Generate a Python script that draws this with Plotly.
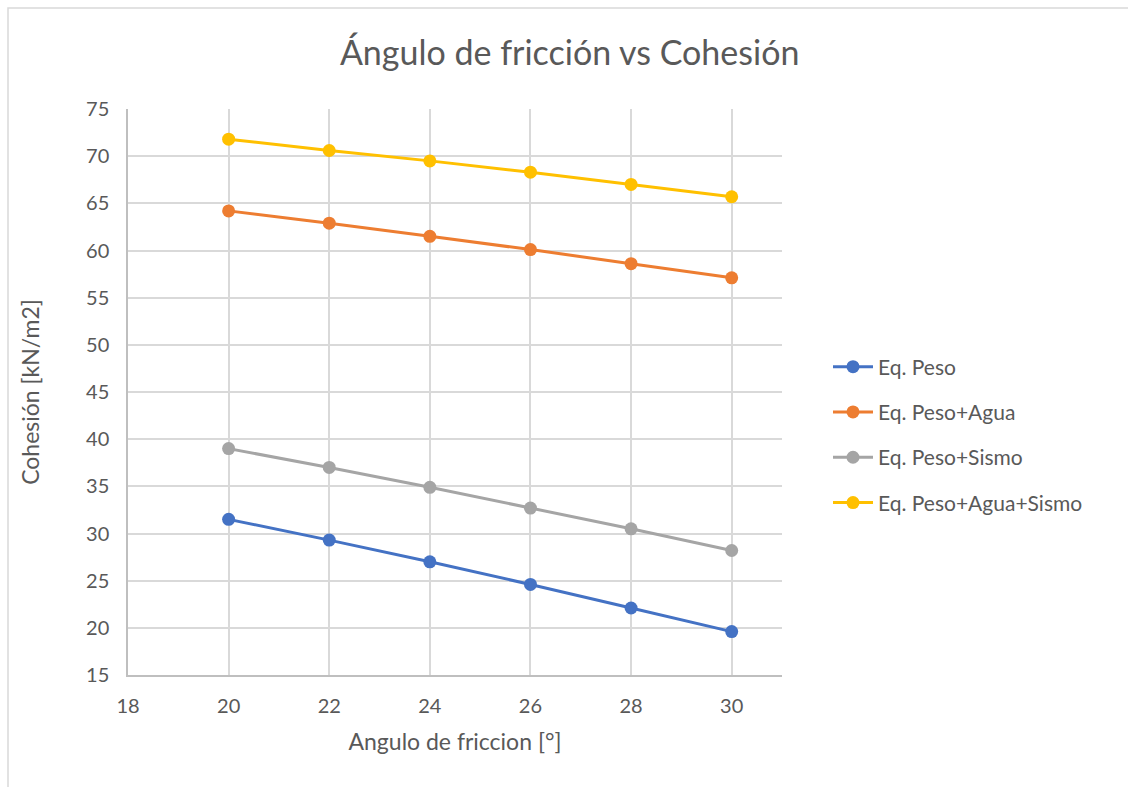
import plotly.graph_objects as go

angles = [20, 22, 24, 26, 28, 30]
eq_peso = [31.5, 29.3, 27.0, 24.6, 22.1, 19.6]
eq_peso_agua = [64.2, 62.9, 61.5, 60.1, 58.6, 57.1]
eq_peso_sismo = [39.0, 37.0, 34.9, 32.7, 30.5, 28.2]
eq_peso_agua_sismo = [71.8, 70.6, 69.5, 68.3, 67.0, 65.7]

series = [
    ("Eq. Peso", eq_peso, "#4472C4"),
    ("Eq. Peso+Agua", eq_peso_agua, "#ED7D31"),
    ("Eq. Peso+Sismo", eq_peso_sismo, "#A5A5A5"),
    ("Eq. Peso+Agua+Sismo", eq_peso_agua_sismo, "#FFC000"),
]

x_ticks = [18, 20, 22, 24, 26, 28, 30]
y_ticks = [15, 20, 25, 30, 35, 40, 45, 50, 55, 60, 65, 70, 75]

font_family = "Lato, 'Open Sans', sans-serif"
text_color = "#595959"

fig = go.Figure()
for name, vals, color in series:
    fig.add_trace(go.Scatter(
        x=angles, y=vals, name=name, mode="lines+markers",
        legendgroup=name,
        line=dict(color=color, width=3),
        marker=dict(color=color, size=13),
    ))

pw, ph = 654, 566

fig.update_layout(
    width=1128, height=787,
    paper_bgcolor="white", plot_bgcolor="white",
    margin=dict(l=128, r=346, t=109, b=112),
    font=dict(family=font_family, color=text_color, size=20),
    title=dict(text="Ángulo de fricción vs Cohesión", x=0.505, xanchor="center",
               y=0.933, yanchor="middle",
               font=dict(size=34, color=text_color, family=font_family)),
    legend=dict(x=(828 - 128) / pw, y=(675 - 435) / ph, xanchor="left", yanchor="middle",
                font=dict(size=21, color=text_color), tracegroupgap=15,
                itemwidth=40, bgcolor="rgba(0,0,0,0)"),
    xaxis=dict(range=[18, 31], tickvals=x_ticks, showgrid=True,
               gridcolor="#D9D9D9", gridwidth=1.5, showline=True,
               linecolor="#BFBFBF", linewidth=1.5, zeroline=False,
               ticks="", ticklabelstandoff=12,
               tickfont=dict(size=20, color=text_color),
               title=dict(text="Angulo de friccion [°]", standoff=18,
                          font=dict(size=23, color=text_color))),
    yaxis=dict(range=[15, 75], tickvals=y_ticks, showgrid=True,
               gridcolor="#D9D9D9", gridwidth=1.5, showline=True,
               linecolor="#BFBFBF", linewidth=1.5, zeroline=False,
               ticks="", ticklabelstandoff=13,
               tickfont=dict(size=20, color=text_color),
               title=dict(text="Cohesión [kN/m2]", standoff=40,
                          font=dict(size=23, color=text_color))),
)

# outer chart border
fig.add_shape(type="rect", xref="paper", yref="paper",
              x0=(8 - 128) / pw, x1=(1135 - 128) / pw,
              y0=(675 - 795) / ph, y1=(675 - 8) / ph,
              line=dict(color="#D9D9D9", width=1.5), fillcolor="rgba(0,0,0,0)",
              layer="below")

fig.write_html("out.html")
